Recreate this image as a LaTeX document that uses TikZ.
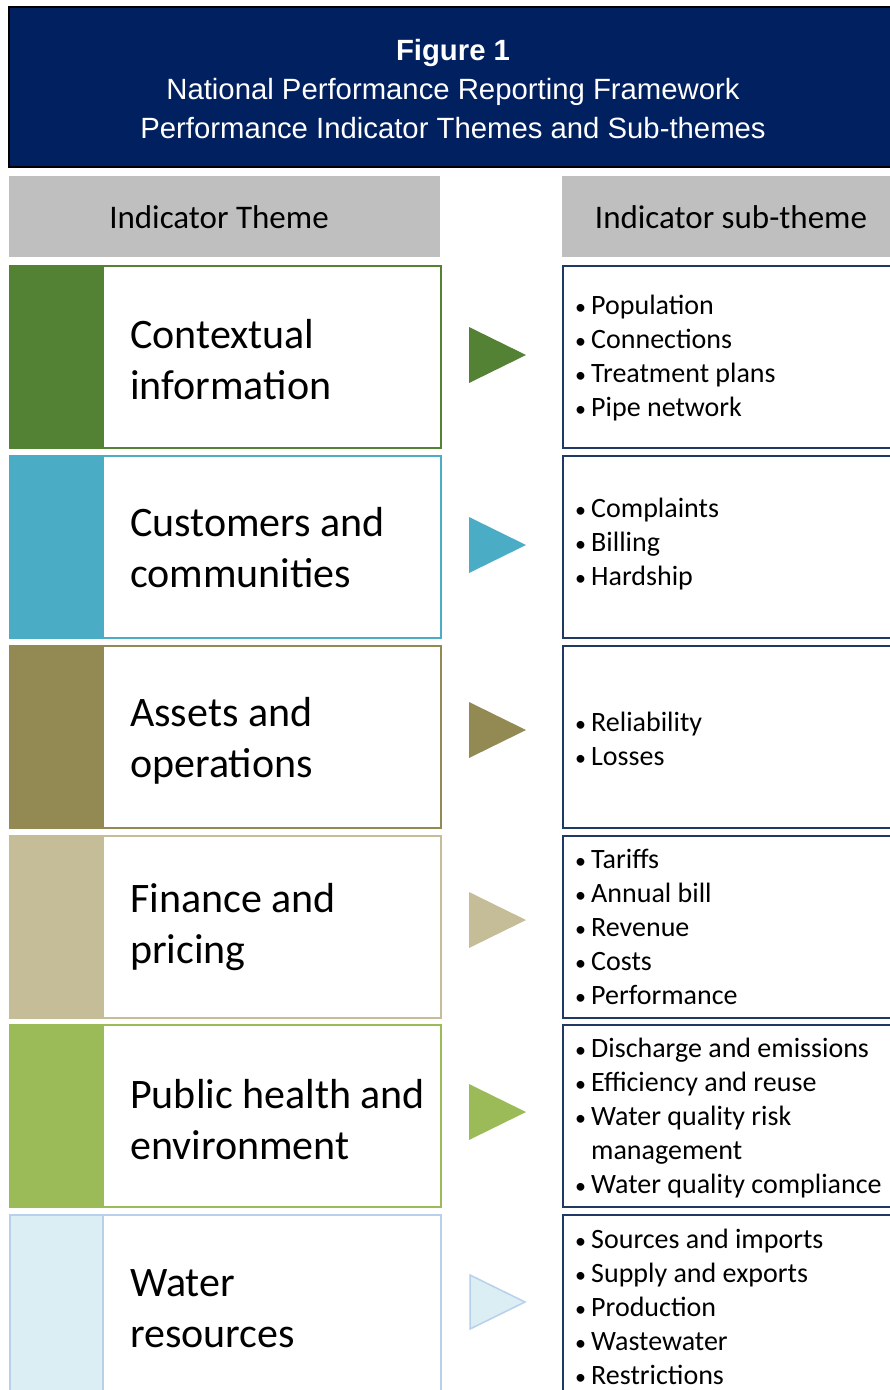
\documentclass[tikz,border=0pt]{standalone}
\usepackage{fontspec}
\setmainfont{Carlito}
\newfontfamily\titlefont{Liberation Sans}
\definecolor{navy}{HTML}{002060}
\definecolor{subborder}{HTML}{1F3864}
\definecolor{hdrgray}{HTML}{BFBFBF}
\definecolor{cA}{HTML}{548235}
\definecolor{cB}{HTML}{4BACC6}
\definecolor{cC}{HTML}{938953}
\definecolor{cD}{HTML}{C4BD97}
\definecolor{cE}{HTML}{9BBB59}
\definecolor{cF}{HTML}{DAEEF3}
\definecolor{cFb}{HTML}{B9D0EA}
\newcommand{\bul}{\makebox[16pt][l]{\raisebox{0pt}{\fontsize{22}{22}\selectfont •}}}
\begin{document}
\begin{tikzpicture}[x=1pt,y=-1pt,
  titlebox/.style={draw=black,line width=1.5pt,fill=navy,anchor=north west,minimum width=890pt,minimum height=160pt,inner sep=0pt},
  titletext/.style={text=white,align=center,font=\titlefont\fontsize{29.3}{39}\selectfont,inner sep=0pt},
  hdrbox/.style={fill=hdrgray,anchor=north west,minimum height=81pt,inner sep=0pt},
  hdrtext/.style={font=\fontsize{33}{40}\selectfont,inner sep=0pt},
  blockbox/.style={anchor=north west,minimum width=93pt,minimum height=182pt,inner sep=0pt,line width=1.8pt},
  themebox/.style={anchor=north west,minimum width=338pt,minimum height=182pt,inner sep=0pt,fill=white,line width=1.8pt},
  themetext/.style={anchor=west,align=left,font=\fontsize{42}{51}\selectfont,inner sep=0pt},
  subbox/.style={draw=subborder,line width=2.2pt,fill=white,anchor=north west,minimum width=336pt,minimum height=182pt,inner sep=0pt},
  subtext/.style={anchor=west,align=left,font=\fontsize{28}{34}\selectfont,inner sep=0pt},
  tri/.style={line width=1.5pt}
]
\clip (0,0) rectangle (890,1390);
\fill[white] (0,0) rectangle (890,1390);

% title
\node[titlebox] (title) at (8,6) {};
\node[titletext] (titletxt) at (453,89) {\textbf{Figure 1}\\National Performance Reporting Framework\\Performance Indicator Themes and Sub-themes};

% headers
\node[hdrbox,minimum width=431pt] (hL) at (9,176) {};
\node[hdrbox,minimum width=336pt] (hR) at (562,176) {};
\node[hdrtext] (hLt) at (219,217) {Indicator Theme};
\node[hdrtext] (hRt) at (731,217) {Indicator sub-theme};

% row 1
\node[themebox,draw=cA] (t1) at (102,265) {};
\node[blockbox,fill=cA,draw=cA] (b1) at (9,265) {};
\node[themetext] (tt1) at (130,360) {Contextual\\information};
\fill[cA] (469,327) -- (526,355) -- (469,383) -- cycle;
\node[subbox] (s1) at (562,265) {};
\node[subtext] (st1) at (575,358) {\bul Population\\\bul Connections\\\bul Treatment plans\\\bul Pipe network};

% row 2
\node[themebox,draw=cB] (t2) at (102,455) {};
\node[blockbox,fill=cB,draw=cB] (b2) at (9,455) {};
\node[themetext] (tt2) at (130,548) {Customers and\\communities};
\fill[cB] (469,517) -- (526,545) -- (469,573) -- cycle;
\node[subbox] (s2) at (562,455) {};
\node[subtext] (st2) at (575,544) {\bul Complaints\\\bul Billing\\\bul Hardship};

% row 3
\node[themebox,draw=cC] (t3) at (102,645) {};
\node[blockbox,fill=cC,draw=cC] (b3) at (9,645) {};
\node[themetext] (tt3) at (130,741) {Assets and\\operations};
\fill[cC] (469,702) -- (526,730) -- (469,758) -- cycle;
\node[subbox] (s3) at (562,645) {};
\node[subtext] (st3) at (575,739) {\bul Reliability\\\bul Losses};

% row 4
\node[themebox,draw=cD] (t4) at (102,835) {};
\node[blockbox,fill=cD,draw=cD] (b4) at (9,835) {};
\node[themetext] (tt4) at (130,927) {Finance and\\pricing};
\fill[cD] (469,892) -- (526,920) -- (469,948) -- cycle;
\node[subbox] (s4) at (562,835) {};
\node[subtext] (st4) at (575,927) {\bul Tariffs\\\bul Annual bill\\\bul Revenue\\\bul Costs\\\bul Performance};

% row 5
\node[themebox,draw=cE] (t5) at (102,1024) {};
\node[blockbox,fill=cE,draw=cE] (b5) at (9,1024) {};
\node[themetext] (tt5) at (130,1120) {Public health and\\environment};
\fill[cE] (469,1084) -- (526,1112) -- (469,1140) -- cycle;
\node[subbox] (s5) at (562,1024) {};
\node[subtext] (st5) at (575,1118) {\bul Discharge and emissions\\\bul Efficiency and reuse\\\bul Water quality risk\\\hspace*{16pt}management\\\bul Water quality compliance};

% row 6
\node[themebox,draw=cFb,minimum height=190pt] (t6) at (102,1214) {};
\node[blockbox,fill=cF,draw=cFb,minimum height=190pt] (b6) at (9,1214) {};
\node[themetext] (tt6) at (130,1309) {Water\\resources};
\filldraw[fill=cF,draw=cFb,tri] (470,1275) -- (525,1302) -- (470,1329) -- cycle;
\node[subbox,minimum height=190pt] (s6) at (562,1214) {};
\node[subtext] (st6) at (575,1307) {\bul Sources and imports\\\bul Supply and exports\\\bul Production\\\bul Wastewater\\\bul Restrictions};
\end{tikzpicture}
\end{document}
